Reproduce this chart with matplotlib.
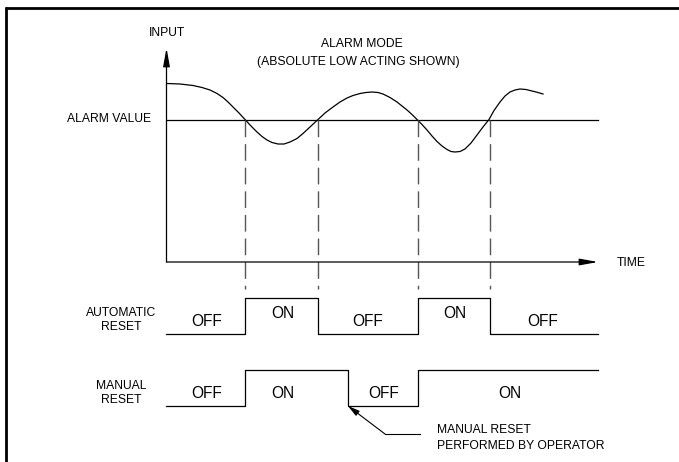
import matplotlib
matplotlib.use("Agg")
import matplotlib.pyplot as plt

plt.rcParams['font.family'] = ['Liberation Sans', 'DejaVu Sans']

# input signal (time, input), screen units (y grows downward)
curve_t = [167, 180, 193, 202, 210, 217, 223, 228, 233, 239, 245, 251, 257, 262,
           267, 272, 278, 284, 290, 297, 303, 310, 318, 325, 333, 340, 347, 353,
           360, 366, 372, 378, 383, 390, 397, 402, 407, 412, 417, 422, 427, 432,
           437, 442, 447, 451, 455, 460, 465, 471, 477, 483, 489, 494, 500, 505,
           510, 515, 520, 526, 532, 538, 543]
curve_y = [83.5, 84, 85.5, 87.5, 90, 93.5, 97.5, 102, 107, 113, 119.5, 126, 132, 136.5,
           140, 142.5, 144, 144, 142, 138.5, 133.5, 127, 119.5, 113, 107, 102, 98, 95.5,
           93.5, 92.5, 92, 92.5, 94, 97.5, 102, 106, 110, 114.5, 119.5, 124.5, 130, 136,
           141.5, 146, 149.5, 151.5, 152, 151.5, 149, 143, 135, 127, 119.5, 110.5, 102, 96,
           92, 90, 89, 89.5, 91, 92.5, 94]

alarm_value = 119.5
t_start, t_end = 166.5, 598
axis_bottom, axis_top = 262, 48
cross_t = [245, 318, 418, 490]

auto_edges = [166, 245, 318, 418, 490, 598]
auto_states = [0, 1, 0, 1, 0]
auto_labels = ["OFF", "ON", "OFF", "ON", "OFF"]
auto_label_t = [207, 283, 368, 455, 543]

manual_edges = [166, 245, 348, 418, 598]
manual_states = [0, 1, 0, 1]
manual_labels = ["OFF", "ON", "OFF", "ON"]
manual_label_t = [207, 283, 384, 510]

fig = plt.figure(figsize=(6.79, 4.62), dpi=100)
ax = fig.add_axes([0, 0, 1, 1])
ax.set_xlim(0, 679)
ax.set_ylim(462, 0)
ax.axis("off")

# frame (top and left only)
ax.plot([5, 679], [8, 8], color="black", lw=2.0, solid_capstyle="butt")
ax.plot([6, 6], [7, 462], color="black", lw=2.0, solid_capstyle="butt")

# axes with arrowheads
arrow = dict(arrowstyle="-|>,head_length=1.1,head_width=0.2", color="black",
             lw=0.9, shrinkA=0, shrinkB=0)
ax.annotate("", xy=(t_start, axis_top), xytext=(t_start, axis_bottom), arrowprops=arrow)
ax.annotate("", xy=(t_end, axis_bottom), xytext=(t_start, axis_bottom), arrowprops=arrow)
ax.text(t_start, 33, "INPUT", ha="center", va="center", fontsize=8.7)
ax.text(617, axis_bottom + 1, "TIME", ha="left", va="center", fontsize=8.7)

# alarm value line and signal
ax.plot([t_start, t_end], [alarm_value, alarm_value], color="black", lw=0.9)
ax.text(151, alarm_value, "ALARM VALUE", ha="right", va="center", fontsize=8.7)
ax.plot(curve_t, curve_y, color="black", lw=0.9)

ax.text(362, 44, "ALARM MODE", ha="center", va="center", fontsize=8.7)
ax.text(358, 62, "(ABSOLUTE LOW ACTING SHOWN)", ha="center", va="center", fontsize=8.7)

# dashed drop lines from the crossings
for t in cross_t:
    ax.plot([t, t], [alarm_value, 289], color="#555555", lw=1.0,
            linestyle=(0, (12, 5)))

# relay outputs
def draw_states(edges, states, labels, label_t, low, high, off_y, on_y):
    ys = [high if s else low for s in states]
    ax.step(edges, ys + [ys[-1]], where="post", color="black", lw=0.9)
    for lab, t in zip(labels, label_t):
        ax.text(t, on_y if lab == "ON" else off_y, lab, ha="center", va="center",
                fontsize=11.2)

draw_states(auto_edges, auto_states, auto_labels, auto_label_t, 334, 298, 322, 313)
draw_states(manual_edges, manual_states, manual_labels, manual_label_t, 406, 370, 393, 393)

ax.text(121, 320, "AUTOMATIC\nRESET", ha="center", va="center", fontsize=8.7,
        linespacing=1.2)
ax.text(121, 393, "MANUAL\nRESET", ha="center", va="center", fontsize=8.7,
        linespacing=1.2)

# operator note with leader
ax.annotate("", xy=(348, 406), xytext=(385, 434),
            arrowprops=dict(arrowstyle="-|>,head_length=0.7,head_width=0.18",
                            color="black", lw=0.8, shrinkA=0, shrinkB=0))
ax.plot([385, 420], [434, 434], color="black", lw=0.8)
ax.text(437, 438, "MANUAL RESET\nPERFORMED BY OPERATOR", ha="left", va="center",
        fontsize=8.7, linespacing=1.35)

fig.savefig("out.png", dpi=100)
